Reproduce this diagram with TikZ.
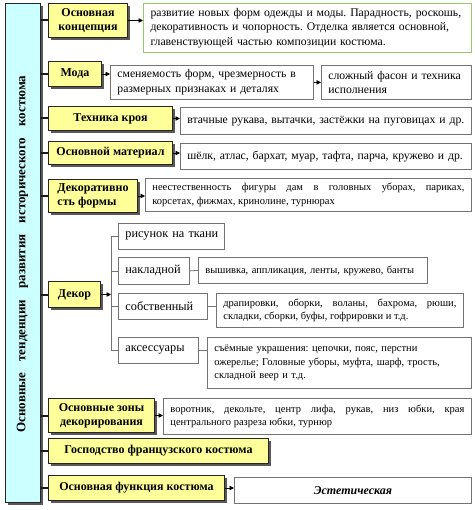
\documentclass[tikz,border=0pt]{standalone}
\usepackage{fontspec}
\setmainfont{Liberation Serif}
\usetikzlibrary{arrows.meta,shadows}
\definecolor{yfill}{HTML}{FFFF99}
\definecolor{cfill}{HTML}{CCFFFF}
\definecolor{gborder}{RGB}{150,200,110}
\frenchspacing
\begin{document}
\begin{tikzpicture}[x=1pt,y=-1pt,
  shd/.style={drop shadow={shadow xshift=2.5pt,shadow yshift=-2.5pt,fill=black!65,opacity=1}},
  ybox/.style={draw=black!85,line width=1pt,fill=yfill,inner sep=0pt,anchor=north west,
    font=\bfseries\fontsize{12}{14}\selectfont,align=center,shd},
  wbox/.style={draw=black!55,line width=0.8pt,fill=white,inner xsep=7pt,inner ysep=0pt,anchor=north west,
    font=\fontsize{11.7}{14.5}\selectfont,align=left},
  sbox/.style={wbox,font=\fontsize{10.5}{13.5}\selectfont,align=justify},
  lbox/.style={wbox,font=\fontsize{12.3}{14}\selectfont},
  stub/.style={line width=2pt,black!90},
  arr/.style={line width=0.8pt,-{Triangle[length=4.5pt,width=4.5pt]}},
  tree/.style={line width=0.8pt,black!55}]
\useasboundingbox (0,0) rectangle (474,510);
% left bar
\node[draw=black!85,line width=1pt,fill=cfill,inner sep=0pt,anchor=north west,shd,
  minimum width=35pt,minimum height=499pt] (bar) at (5,3) {};
\node[rotate=90,font=\bfseries\fontsize{13}{15}\selectfont,inner sep=0pt] (bartitle) at (22.5,254)
  {\makebox[357pt][s]{Основные тенденции развития исторического костюма}};
% yellow boxes
\node[ybox,minimum width=79pt,minimum height=34pt] (y1) at (48,3) {Основная\\концепция};
\node[ybox,minimum width=53pt,minimum height=25pt] (y2) at (48,61) {Мода};
\node[ybox,minimum width=124pt,minimum height=24pt] (y3) at (48,106) {Техника кроя};
\node[ybox,minimum width=124pt,minimum height=23pt] (y4) at (48,141) {Основной материал};
\node[ybox,minimum width=89pt,minimum height=33pt,align=left,inner xsep=6pt] (y5) at (48,179) {Декоративно\\сть формы};
\node[ybox,minimum width=52pt,minimum height=26pt] (y6) at (48,281) {Декор};
\node[ybox,minimum width=106pt,minimum height=34pt] (y7) at (48,398) {Основные зоны\\декорирования};
\node[ybox,minimum width=220pt,minimum height=25pt] (y8) at (48,438) {Господство французского костюма};
\node[ybox,minimum width=176pt,minimum height=25pt] (y9) at (48,475) {Основная функция костюма};
% white boxes
\node[wbox,draw=gborder,line width=1pt,minimum width=328pt,minimum height=49pt,text width=314pt] (w1) at (143,3)
  {развитие новых форм одежды и моды. Парадность, роскошь,\\декоративность и чопорность. Отделка является основной,\\главенствующей частью композиции костюма.};
\node[wbox,minimum width=203pt,minimum height=34pt,text width=189pt] (w2) at (110,65)
  {сменяемость форм, чрезмерность в\\размерных признаках и деталях};
\node[wbox,minimum width=150pt,minimum height=34pt,text width=136pt] (w2b) at (321,65)
  {сложный фасон и техника\\исполнения};
\node[wbox,minimum width=291pt,minimum height=27pt,text width=277pt] (w3) at (180,107)
  {втачные рукава, вытачки, застёжки на пуговицах и др.};
\node[wbox,minimum width=291pt,minimum height=26pt,text width=277pt] (w4) at (180,143)
  {шёлк, атлас, бархат, муар, тафта, парча, кружево и др.};
\node[sbox,minimum width=326pt,minimum height=33pt,text width=312pt] (w5) at (145,178)
  {неестественность фигуры дам в головных уборах, париках,\linebreak корсетах, фижмах, кринолине, турнюрах};
% decor subtree
\node[lbox,minimum width=106pt,minimum height=26pt,text width=92pt] (r1) at (118,223) {\mbox{рисунок на ткани}};
\node[lbox,minimum width=71pt,minimum height=27pt,text width=57pt] (r2) at (118,257) {\mbox{накладной}};
\node[lbox,minimum width=89pt,minimum height=26pt,text width=75pt] (r3) at (118,293) {\mbox{собственный}};
\node[lbox,minimum width=80pt,minimum height=26pt,text width=66pt] (r4) at (118,337) {\mbox{аксессуары}};
\node[sbox,minimum width=229pt,minimum height=26pt,text width=215pt,align=left] (r2b) at (198,257)
  {вышивка, аппликация, ленты, кружево, банты};
\node[sbox,minimum width=247pt,minimum height=34pt,text width=233pt] (r3b) at (216,293)
  {драпировки, оборки, воланы, бахрома, рюши,\linebreak складки, сборки, буфы, гофрировки и т.д.};
\node[sbox,minimum width=264pt,minimum height=51pt,text width=250pt,align=left] (r4b) at (207,337)
  {съёмные украшения: цепочки, пояс, перстни\\ожерелье; Головные уборы, муфта, шарф, трость,\\складной веер и т.д.};
\node[sbox,minimum width=308pt,minimum height=36pt,text width=294pt] (w7) at (163,398)
  {воротник, декольте, центр лифа, рукав, низ юбки, края\linebreak центрального разреза юбки, турнюр};
\node[wbox,minimum width=237pt,minimum height=26pt,text width=223pt,align=center,
  font=\bfseries\itshape\fontsize{12}{14}\selectfont] (w9) at (234,477) {Эстетическая};
% stubs
\foreach \b in {y1,y2,y3,y4,y5,y6,y7,y8,y9}
  \draw[stub] (bar.east |- \b.west) -- (\b.west);
% arrows
\draw[arr] (y1.east) -- (y1.east -| w1.west);
\draw[arr] (y2.east) -- (y2.east -| w2.west);
\draw[arr] (w2.east) -- (w2b.west);
\draw[arr] (y3.east) -- (y3.east -| w3.west);
\draw[arr] (y4.east) -- (y4.east -| w4.west);
\draw[arr] (y5.east) -- (y5.east -| w5.west);
\draw[arr] (y7.east) -- (y7.east -| w7.west);
\draw[arr] (y9.east) -- (y9.east -| w9.west);
% decor tree
\coordinate (trunk) at (111,0);
\draw[arr] (y6.east) -- (y6.east -| trunk);
\draw[tree] (trunk |- r1.west) -- (trunk |- r4.west);
\foreach \r in {r1,r2,r3,r4}
  \draw[tree] (trunk |- \r.west) -- (\r.west);
\draw[tree] (r2.east) -- (r2b.west);
\draw[tree] (r3.east) -- (r3.east -| r3b.west);
\draw[tree] (r4.east) -- (r4.east -| r4b.west);
\end{tikzpicture}
\end{document}
